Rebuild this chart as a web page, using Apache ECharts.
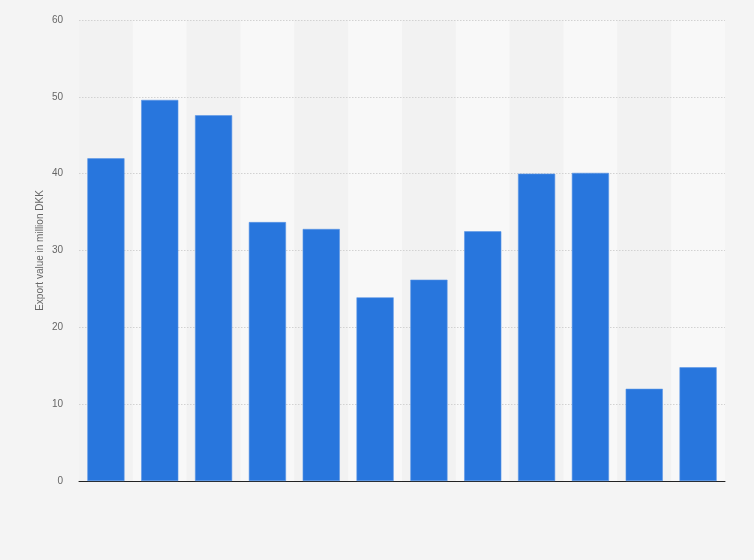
<!DOCTYPE html>
<html><head><meta charset="utf-8">
<script src="https://cdn.jsdelivr.net/npm/echarts@6/dist/echarts.min.js"></script>
<style>html,body{margin:0;padding:0;background:#f4f4f4;}#c{width:754px;height:560px;}</style>
</head><body><div id="c"></div>
<script>
const categories = ['1','2','3','4','5','6','7','8','9','10','11','12'];
const exportValues = [42.0, 49.6, 47.6, 33.7, 32.8, 23.9, 26.2, 32.5, 40.0, 40.1, 12.0, 14.8];
const yTicks = [0, 10, 20, 30, 40, 50, 60];
const yAxisTitle = 'Export value in million DKK';

const chart = echarts.init(document.getElementById('c'), null, {renderer: 'canvas'});
chart.setOption({
  backgroundColor: '#f4f4f4',
  animation: false,
  grid: {left: 79, right: 29, top: 20, bottom: 79},
  xAxis: {
    type: 'category', data: categories, z: 0,
    axisLine: {show: true, lineStyle: {color: '#222', width: 1}},
    axisTick: {show: false},
    axisLabel: {show: false},
    splitArea: {show: true, areaStyle: {color: ['#f2f2f2', '#f8f8f8']}}
  },
  yAxis: {
    type: 'value', min: yTicks[0], max: yTicks[yTicks.length - 1], interval: 10, z: 2,
    name: yAxisTitle, nameLocation: 'middle', nameGap: 34, nameMoveOverlap: false,
    nameTextStyle: {color: '#666', fontSize: 10, fontFamily: 'Arial, Liberation Sans, sans-serif'},
    axisLine: {show: false}, axisTick: {show: false},
    axisLabel: {color: '#666', fontSize: 10, margin: 16, fontFamily: 'Arial, Liberation Sans, sans-serif'},
    splitLine: {show: true, showMinLine: false, lineStyle: {color: '#d2d2d2', type: [1.5, 1.5], width: 1}}
  },
  series: [{
    type: 'bar', data: exportValues, barCategoryGap: '31%', z: 3,
    itemStyle: {color: '#2876dd', borderColor: '#5a96e6', borderWidth: 0.6}
  }]
});
</script></body></html>
